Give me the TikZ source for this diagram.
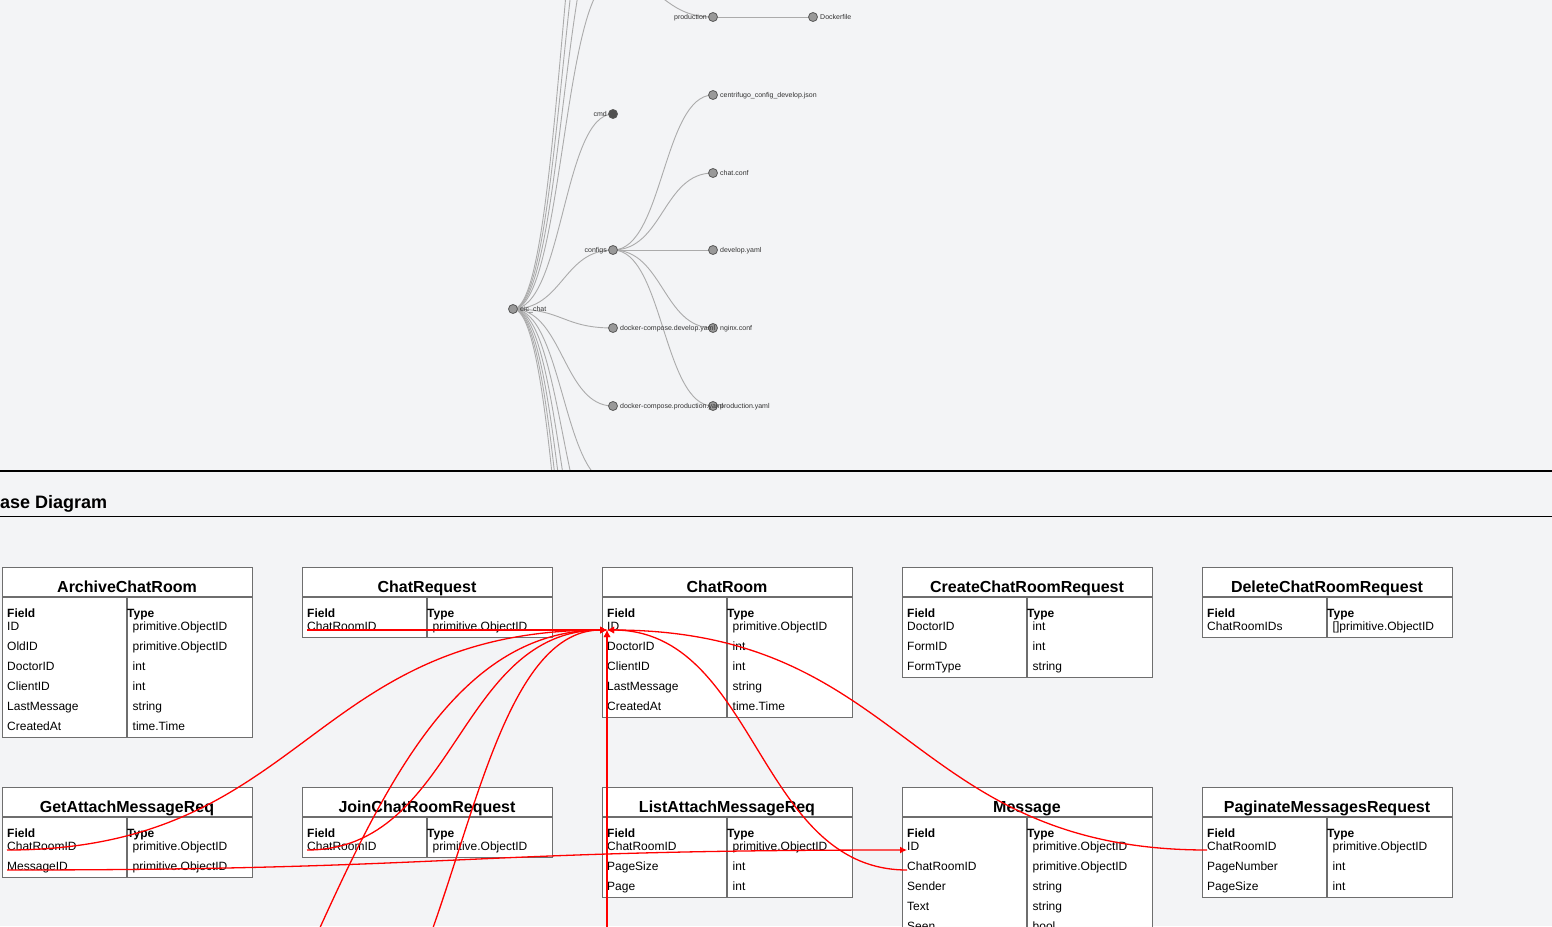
\documentclass[tikz,border=0pt]{standalone}
\usepackage{fontspec}
\setmainfont{Liberation Sans}
\usetikzlibrary{arrows.meta,calc}
\definecolor{bgc}{HTML}{F3F4F6}
\definecolor{tlinec}{HTML}{6E6E6E}
\definecolor{tedgec}{HTML}{ABABAB}
\definecolor{tnfill}{HTML}{999999}
\definecolor{tndraw}{HTML}{595959}
\definecolor{tndark}{HTML}{505050}
\definecolor{tlabc}{HTML}{333333}

\tikzset{
  tframe/.style={draw=tlinec, line width=1.3pt},
  ttitle/.style={font=\bfseries\fontsize{16}{18}\selectfont, inner sep=0, anchor=base},
  thead/.style={font=\bfseries\fontsize{12}{14}\selectfont, inner sep=0, anchor=base west},
  tcell/.style={font=\fontsize{12}{14}\selectfont, inner sep=0, anchor=base west},
  rel/.style={draw=red, line width=1.3pt, -{Latex[length=7pt,width=7pt]}},
  treeedge/.style={draw=tedgec, line width=0.9pt},
  tnode/.style={circle, draw=tndraw, fill=tnfill, line width=0.8pt, minimum size=9pt, inner sep=0},
  tnodecol/.style={tnode, fill=tndark},
  tlabr/.style={font=\fontsize{7}{8}\selectfont, inner sep=0, text=tlabc, anchor=base west},
  tlabl/.style={font=\fontsize{7}{8}\selectfont, inner sep=0, text=tlabc, anchor=base east},
}

\newcommand{\tlink}[2]{\draw[treeedge] let \p1=(#1), \p2=(#2) in (\p1) .. controls ({(\x1+\x2)/2},\y1) and ({(\x1+\x2)/2},\y2) .. (\p2);}
\newcommand{\rlink}[2]{\draw[rel] let \p1=(#1), \p2=(#2) in (\p1) .. controls ({(\x1+\x2)/2},\y1) and ({(\x1+\x2)/2},\y2) .. (\p2);}

\newcommand{\dbtable}[5]{%
  \foreach \fa/\ty [count=\n] in {#5} {\xdef\dbrows{\n}}%
  \pgfmathsetmacro{\dbh}{50+20*\dbrows}%
  \begin{scope}[shift={(#2,#3)}]
    \node[tframe, fill=white, minimum width=250pt, minimum height=\dbh pt, anchor=north west, inner sep=0] (#1) at (0,0) {};
    \draw[tframe] (0,30) -- (250,30);
    \draw[tframe] (125,30) -- (125,\dbh);
    \node[ttitle] (#1-title) at (125,25) {#4};
    \node[thead] (#1-fh) at (5,50) {Field};
    \node[thead] (#1-th) at (125,50) {Type};
    \foreach \fa/\ty [count=\i] in {#5} {
      \node[tcell] (#1-f\i) at (5,{43+20*\i}) {\fa};
      \node[tcell] (#1-t\i) at (130.5,{43+20*\i}) {\ty};
      \coordinate (#1-c\i) at (5,{43+20*\i});
    }
  \end{scope}}

\begin{document}
\begin{tikzpicture}[x=1pt,y=-1pt]
\useasboundingbox (0,0) rectangle (1552,926);
\clip (0,0) rectangle (1552,926);
\fill[bgc] (0,0) rectangle (1552,926);

% ---------------- tree ----------------
\begin{scope}
\clip (0,0) rectangle (1552,471);
\coordinate (root) at (513,309);
\coordinate (cmd) at (613,114);
\coordinate (configs) at (613,250);
\coordinate (dcd) at (613,328);
\coordinate (dcp) at (613,406);
\coordinate (up1) at (613,-20);
\coordinate (up2) at (613,-98);
\coordinate (up3) at (613,-176);
\coordinate (up4) at (613,-254);
\coordinate (dn1) at (613,484);
\coordinate (dn2) at (613,562);
\coordinate (dn3) at (613,640);
\coordinate (dn4) at (613,718);
\coordinate (dn5) at (613,796);
\coordinate (dn6) at (613,874);
\coordinate (prod) at (713,17);
\coordinate (dockerfile) at (813,17);
\coordinate (cen) at (713,95);
\coordinate (chatconf) at (713,173);
\coordinate (devyaml) at (713,250);
\coordinate (nginx) at (713,328);
\coordinate (prodyaml) at (713,406);

\foreach \c in {cmd,configs,dcd,dcp,up1,up2,up3,up4,dn1,dn2,dn3,dn4,dn5,dn6} {\tlink{root}{\c}}
\tlink{up1}{prod}
\tlink{prod}{dockerfile}
\foreach \c in {cen,chatconf,devyaml,nginx,prodyaml} {\tlink{configs}{\c}}

\node[tnode] (n-root) at (root) {};
\node[tnodecol] (n-cmd) at (cmd) {};
\node[tnode] (n-configs) at (configs) {};
\node[tnode] (n-dcd) at (dcd) {};
\node[tnode] (n-dcp) at (dcp) {};
\node[tnode] (n-prod) at (prod) {};
\node[tnode] (n-dockerfile) at (dockerfile) {};
\node[tnode] (n-cen) at (cen) {};
\node[tnode] (n-chatconf) at (chatconf) {};
\node[tnode] (n-devyaml) at (devyaml) {};
\node[tnode] (n-nginx) at (nginx) {};
\node[tnode] (n-prodyaml) at (prodyaml) {};

\node[tlabr] (l-root) at (520,311.5) {eic\_chat};
\node[tlabl] (l-cmd) at (607,116.5) {cmd};
\node[tlabl] (l-configs) at (607,252.5) {configs};
\node[tlabr] (l-dcd) at (620,330.5) {docker-compose.develop.yaml};
\node[tlabr] (l-dcp) at (620,408.5) {docker-compose.production.yaml};
\node[tlabl] (l-prod) at (707,19.5) {production};
\node[tlabr] (l-dockerfile) at (820,19.5) {Dockerfile};
\node[tlabr] (l-cen) at (720,97.5) {centrifugo\_config\_develop.json};
\node[tlabr] (l-chatconf) at (720,175.5) {chat.conf};
\node[tlabr] (l-devyaml) at (720,252.5) {develop.yaml};
\node[tlabr] (l-nginx) at (720,330.5) {nginx.conf};
\node[tlabr] (l-prodyaml) at (720,408.5) {production.yaml};
\end{scope}

% ---------------- separators / heading ----------------
\draw[line width=1.2pt] (0,471) -- (1552,471);
\node[font=\bfseries\fontsize{18}{20}\selectfont, anchor=base west, inner sep=0] (heading) at (0,508) {ase Diagram};
\draw[line width=0.9pt] (0,516) -- (1552,516);

% ---------------- tables ----------------
\dbtable{ArchiveChatRoom}{2}{567}{ArchiveChatRoom}{ID/primitive.ObjectID, OldID/primitive.ObjectID, DoctorID/int, ClientID/int, LastMessage/string, CreatedAt/time.Time}
\dbtable{ChatRequest}{302}{567}{ChatRequest}{ChatRoomID/primitive.ObjectID}
\dbtable{ChatRoom}{602}{567}{ChatRoom}{ID/primitive.ObjectID, DoctorID/int, ClientID/int, LastMessage/string, CreatedAt/time.Time}
\dbtable{CreateChatRoomRequest}{902}{567}{CreateChatRoomRequest}{DoctorID/int, FormID/int, FormType/string}
\dbtable{DeleteChatRoomRequest}{1202}{567}{DeleteChatRoomRequest}{ChatRoomIDs/{[]primitive.ObjectID}}
\dbtable{GetAttachMessageReq}{2}{787}{GetAttachMessageReq}{ChatRoomID/primitive.ObjectID, MessageID/primitive.ObjectID}
\dbtable{JoinChatRoomRequest}{302}{787}{JoinChatRoomRequest}{ChatRoomID/primitive.ObjectID}
\dbtable{ListAttachMessageReq}{602}{787}{ListAttachMessageReq}{ChatRoomID/primitive.ObjectID, PageSize/int, Page/int}
\dbtable{Message}{902}{787}{Message}{ID/primitive.ObjectID, ChatRoomID/primitive.ObjectID, Sender/string, Text/string, Seen/bool}
\dbtable{PaginateMessagesRequest}{1202}{787}{PaginateMessagesRequest}{ChatRoomID/primitive.ObjectID, PageNumber/int, PageSize/int}

% ---------------- relations ----------------
\coordinate (src1) at (7,1286);
\coordinate (src2) at (307,1086);
\coordinate (src3) at (607,1066);
\rlink{ChatRequest-c1}{ChatRoom-c1}
\rlink{GetAttachMessageReq-c1}{ChatRoom-c1}
\rlink{JoinChatRoomRequest-c1}{ChatRoom-c1}
\rlink{ListAttachMessageReq-c1}{ChatRoom-c1}
\rlink{Message-c2}{ChatRoom-c1}
\rlink{PaginateMessagesRequest-c1}{ChatRoom-c1}
\rlink{src1}{ChatRoom-c1}
\rlink{src2}{ChatRoom-c1}
\rlink{src3}{ChatRoom-c1}
\rlink{GetAttachMessageReq-c2}{Message-c1}
\end{tikzpicture}
\end{document}
